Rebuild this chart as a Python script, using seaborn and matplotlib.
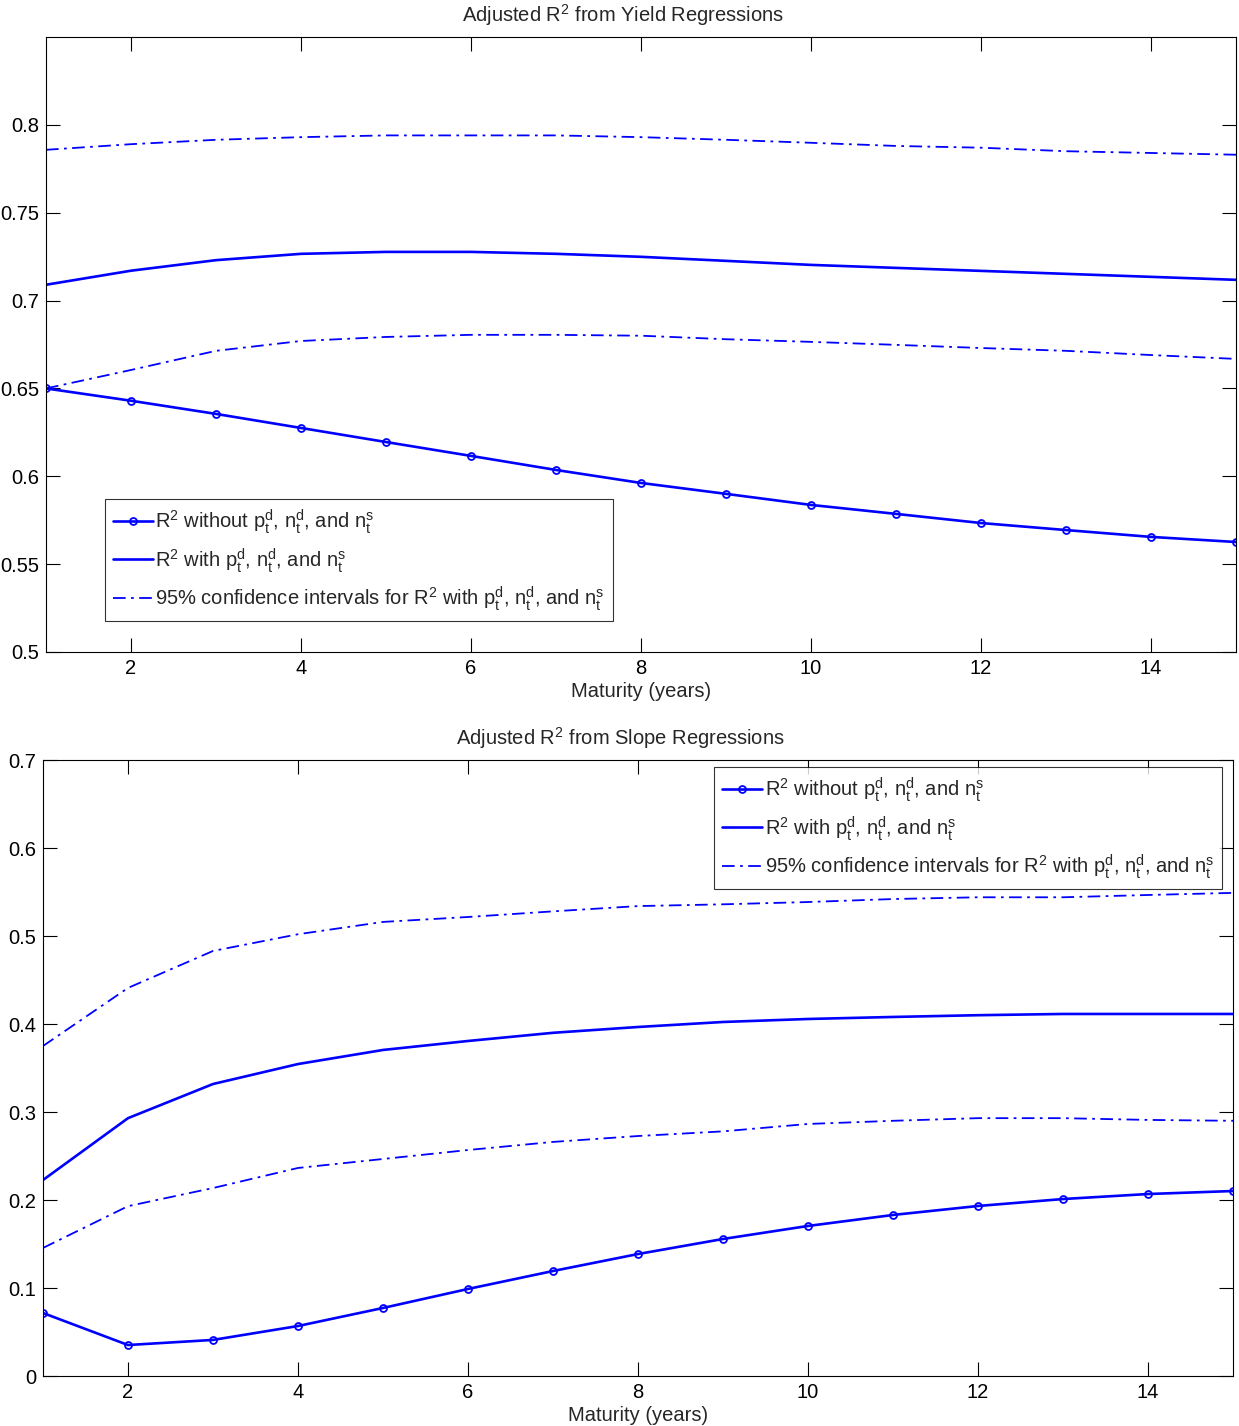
import numpy as np
import pandas as pd
import seaborn as sns
import matplotlib
matplotlib.use("Agg")
import matplotlib.pyplot as plt

maturity = list(range(1, 16))

# Yield regressions
yield_without = [0.650, 0.643, 0.6355, 0.6275, 0.6195, 0.6116, 0.6036, 0.5962, 0.590,
                 0.5837, 0.5786, 0.5734, 0.5694, 0.5655, 0.5626]
yield_with = [0.709, 0.717, 0.723, 0.7266, 0.7277, 0.7277, 0.7266, 0.7249, 0.7226,
              0.7203, 0.7186, 0.7169, 0.7152, 0.7135, 0.7118]
yield_ci_hi = [0.7858, 0.789, 0.7915, 0.793, 0.794, 0.794, 0.794, 0.793, 0.7915,
               0.7898, 0.788, 0.787, 0.785, 0.784, 0.783]
yield_ci_lo = [0.650, 0.6605, 0.6714, 0.677, 0.6793, 0.6805, 0.6805, 0.680, 0.678,
               0.6765, 0.6748, 0.673, 0.6714, 0.669, 0.6668]

# Slope regressions
slope_without = [0.0716, 0.0352, 0.041, 0.0568, 0.0773, 0.0989, 0.1193, 0.1386, 0.1557,
                 0.1705, 0.183, 0.1932, 0.2011, 0.2068, 0.2102]
slope_with = [0.2227, 0.293, 0.3318, 0.3545, 0.3705, 0.3807, 0.390, 0.3966, 0.4023,
              0.4057, 0.408, 0.410, 0.4114, 0.4114, 0.4114]
slope_ci_hi = [0.375, 0.441, 0.483, 0.502, 0.516, 0.5216, 0.528, 0.534, 0.536,
               0.5386, 0.542, 0.544, 0.544, 0.5466, 0.549]
slope_ci_lo = [0.1455, 0.193, 0.2136, 0.2364, 0.2466, 0.2568, 0.266, 0.2727, 0.278,
               0.2864, 0.290, 0.293, 0.293, 0.291, 0.290]

x_ticks = [2, 4, 6, 8, 10, 12, 14]
yield_yticks = [0.5, 0.55, 0.6, 0.65, 0.7, 0.75, 0.8]
slope_yticks = [0, 0.1, 0.2, 0.3, 0.4, 0.5, 0.6, 0.7]

lab_without = r"R$^2$ without p$_t^d$, n$_t^d$, and n$_t^s$"
lab_with = r"R$^2$ with p$_t^d$, n$_t^d$, and n$_t^s$"
lab_ci = r"95% confidence intervals for R$^2$ with p$_t^d$, n$_t^d$, and n$_t^s$"

sns.set_theme(style="white")
plt.rcParams['font.family'] = ['Liberation Sans', 'DejaVu Sans']
plt.rcParams['mathtext.fontset'] = 'custom'
plt.rcParams['mathtext.rm'] = 'Liberation Sans'
plt.rcParams['mathtext.it'] = 'Liberation Sans'
plt.rcParams['mathtext.default'] = 'regular'

fig = plt.figure(figsize=(12.39, 14.26), dpi=100)
ax1 = fig.add_axes([46/1239, 1 - 652/1426, 1190/1239, 615/1426])
ax2 = fig.add_axes([43/1239, 1 - 1376/1426, 1190/1239, 616/1426])

BLUE = (0, 0, 1)
FS = 14.5
DASHDOT = (0, (7, 3, 1.5, 3))


def draw(ax, wo, w, hi, lo, yticks, ylim, title, title_x, leg_anchor):
    sns.lineplot(x=maturity, y=wo, ax=ax, color=BLUE, lw=1.9, marker='o', ms=5,
                 mfc='none', mec=BLUE, mew=1.3, label=lab_without)
    sns.lineplot(x=maturity, y=w, ax=ax, color=BLUE, lw=1.9, label=lab_with)
    sns.lineplot(x=maturity, y=hi, ax=ax, color=BLUE, lw=1.3, linestyle=DASHDOT, label=lab_ci)
    sns.lineplot(x=maturity, y=lo, ax=ax, color=BLUE, lw=1.3, linestyle=DASHDOT)
    ax.set_xlim(1, 15)
    ax.set_ylim(*ylim)
    ax.set_xticks(x_ticks)
    ax.set_xticklabels([f"{t:g}" for t in x_ticks], fontsize=FS)
    ax.set_yticks(yticks)
    ax.set_yticklabels([f"{t:g}" for t in yticks], fontsize=FS)
    ax.tick_params(direction='in', length=10, width=0.8, top=True, right=True,
                   bottom=True, left=True, pad=5, colors='black')
    for s in ax.spines.values():
        s.set_visible(True)
        s.set_color('black')
        s.set_linewidth(0.8)
    ax.set_xlabel("Maturity (years)", fontsize=FS, labelpad=3)
    ax.set_ylabel("")
    ax.set_title(title, fontsize=FS, x=title_x, pad=11)
    leg = ax.legend(loc='upper left', bbox_to_anchor=leg_anchor, borderaxespad=0,
                    fontsize=FS, frameon=True, fancybox=False, handlelength=2.0,
                    handletextpad=0.1, borderpad=0.4, labelspacing=0.5)
    leg.get_frame().set_edgecolor('black')
    leg.get_frame().set_linewidth(0.8)
    ax.grid(False)


draw(ax1, yield_without, yield_with, yield_ci_hi, yield_ci_lo, yield_yticks, (0.5, 0.85),
     r"Adjusted R$^2$ from Yield Regressions", 0.485, (0.0496, 0.2488))
draw(ax2, slope_without, slope_with, slope_ci_hi, slope_ci_lo, slope_yticks, (0, 0.7),
     r"Adjusted R$^2$ from Slope Regressions", 0.485, (0.564, 0.9886))

fig.savefig("out.png", dpi=100)
